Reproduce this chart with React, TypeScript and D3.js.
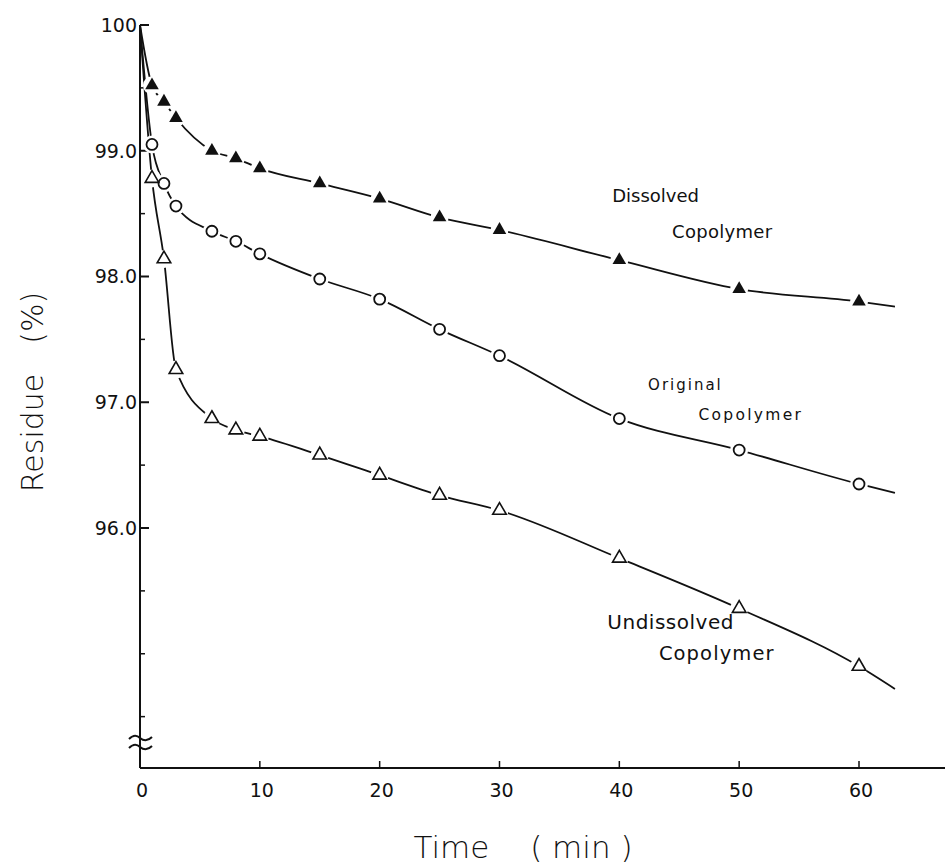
import React, { useRef, useEffect } from "react";
import * as d3 from "d3";

// sampling times (min)
const times = [1, 2, 3, 6, 8, 10, 15, 20, 25, 30, 40, 50, 60];

// residue (%)
const dissolved = [99.52, 99.39, 99.26, 99.0, 98.94, 98.86, 98.74, 98.62, 98.47, 98.37, 98.13, 97.9, 97.8];
const original = [99.05, 98.74, 98.56, 98.36, 98.28, 98.18, 97.98, 97.82, 97.58, 97.37, 96.87, 96.62, 96.35];
const undissolved = [98.78, 98.14, 97.26, 96.87, 96.78, 96.73, 96.58, 96.42, 96.26, 96.14, 95.76, 95.36, 94.9];

// the drawn curves start at 100 % and run a little past the last point
const startValue = 100;
const curveEndTime = 63;
const curveEnds = [97.76, 96.28, 94.72];

const xTicks = [0, 10, 20, 30, 40, 50, 60];
const yTicks = [96, 97, 98, 99, 100];
const yTickLabels = ["96.0", "97.0", "98.0", "99.0", "100"];
const yMinorTicks = [99.5, 98.5, 97.5, 96.5, 95.5, 95.0, 94.5];

const labelLines = [
  ["Dissolved", "Copolymer"],
  ["Original", "Copolymer"],
  ["Undissolved", "Copolymer"],
];

const W = 950;
const H = 864;
const FONT = "'DejaVu Sans', sans-serif";
const INK = "#111";

const App = () => {
  const svgRef = useRef<SVGSVGElement | null>(null);

  useEffect(() => {
    const svg = d3.select(svgRef.current);
    svg.selectAll("*").remove();

    const x = d3.scaleLinear().domain([0, 60]).range([140, 859]);
    const y = d3.scaleLinear().domain([96, 100]).range([528, 25]);
    const axisX = x(0);
    const axisY = 768;
    const axisTop = 25;

    svg.append("rect").attr("width", W).attr("height", H).attr("fill", "#fff");

    // axes
    svg.append("line")
      .attr("x1", axisX).attr("x2", axisX)
      .attr("y1", axisTop).attr("y2", axisY)
      .attr("stroke", INK).attr("stroke-width", 2);
    svg.append("line")
      .attr("x1", axisX).attr("x2", 945)
      .attr("y1", axisY).attr("y2", axisY)
      .attr("stroke", INK).attr("stroke-width", 2);

    // y ticks (inward)
    svg.selectAll(".ytick")
      .data(yTicks)
      .enter()
      .append("line")
      .attr("x1", axisX).attr("x2", axisX + 9)
      .attr("y1", d => y(d)).attr("y2", d => y(d))
      .attr("stroke", INK).attr("stroke-width", 2);
    svg.selectAll(".yminor")
      .data(yMinorTicks)
      .enter()
      .append("line")
      .attr("x1", axisX).attr("x2", axisX + 5)
      .attr("y1", d => y(d)).attr("y2", d => y(d))
      .attr("stroke", INK).attr("stroke-width", 1.5);
    svg.selectAll(".ylabel")
      .data(yTicks)
      .enter()
      .append("text")
      .attr("x", axisX - 3)
      .attr("y", d => y(d))
      .attr("dy", "0.36em")
      .attr("text-anchor", "end")
      .style("font-family", FONT)
      .style("font-size", "19px")
      .attr("fill", INK)
      .text((d, i) => yTickLabels[i]);

    // x ticks (inward)
    svg.selectAll(".xtick")
      .data(xTicks.slice(1))
      .enter()
      .append("line")
      .attr("x1", d => x(d)).attr("x2", d => x(d))
      .attr("y1", axisY).attr("y2", axisY - 7)
      .attr("stroke", INK).attr("stroke-width", 1.5);
    svg.selectAll(".xlabel")
      .data(xTicks)
      .enter()
      .append("text")
      .attr("x", d => x(d) + 2)
      .attr("y", axisY + 29)
      .attr("text-anchor", "middle")
      .style("font-family", FONT)
      .style("font-size", "19px")
      .attr("fill", INK)
      .text(d => String(d));

    // axis break
    [737, 746].forEach(by => {
      svg.append("path")
        .attr("d", `M${axisX - 11},${by + 2} q6,-6 11,-1 q6,5 12,-1`)
        .attr("fill", "none")
        .attr("stroke", INK)
        .attr("stroke-width", 2);
    });

    // axis titles
    svg.append("text")
      .attr("transform", `translate(43,392) rotate(-90)`)
      .attr("text-anchor", "middle")
      .style("font-family", FONT)
      .style("font-size", "30px")
      .style("font-weight", 200)
      .attr("fill", INK)
      .text("Residue\u2003(%)");
    svg.append("text")
      .attr("x", 523)
      .attr("y", 858)
      .attr("text-anchor", "middle")
      .style("font-family", FONT)
      .style("font-size", "31px")
      .style("font-weight", 200)
      .attr("fill", INK)
      .text("Time\u2003 ( min )");

    const series = [dissolved, original, undissolved];
    const line = d3.line<[number, number]>()
      .x(d => x(d[0]))
      .y(d => y(d[1]))
      .curve(d3.curveMonotoneX);

    series.forEach((vals, si) => {
      const pts: [number, number][] = [[0, startValue]];
      times.forEach((t, i) => pts.push([t, vals[i]]));
      pts.push([curveEndTime, curveEnds[si]]);
      svg.append("path")
        .attr("d", line(pts))
        .attr("fill", "none")
        .attr("stroke", INK)
        .attr("stroke-width", 1.8);
    });

    // white gaps round the markers
    series.forEach(vals => {
      svg.append("g")
        .selectAll("circle")
        .data(times.map((t, i) => [t, vals[i]]))
        .enter()
        .append("circle")
        .attr("cx", d => x(d[0]))
        .attr("cy", d => y(d[1]))
        .attr("r", 9)
        .attr("fill", "#fff");
    });

    const tri = d3.symbol().type(d3.symbolTriangle).size(80);

    svg.append("g")
      .selectAll("path")
      .data(times.map((t, i) => [t, dissolved[i]]))
      .enter()
      .append("path")
      .attr("d", tri())
      .attr("transform", d => `translate(${x(d[0])},${y(d[1])})`)
      .attr("fill", INK);

    svg.append("g")
      .selectAll("circle")
      .data(times.map((t, i) => [t, original[i]]))
      .enter()
      .append("circle")
      .attr("cx", d => x(d[0]))
      .attr("cy", d => y(d[1]))
      .attr("r", 5.5)
      .attr("fill", "#fff")
      .attr("stroke", INK)
      .attr("stroke-width", 1.8);

    svg.append("g")
      .selectAll("path")
      .data(times.map((t, i) => [t, undissolved[i]]))
      .enter()
      .append("path")
      .attr("d", tri())
      .attr("transform", d => `translate(${x(d[0])},${y(d[1])})`)
      .attr("fill", "#fff")
      .attr("stroke", INK)
      .attr("stroke-width", 1.6);

    // curve labels, placed in data units
    const labelPos = [
      [[39.4, 98.59, 18, 0], [44.4, 98.31, 18, 0.3]],
      [[42.4, 97.1, 15, 2], [46.6, 96.86, 15.5, 2.3]],
      [[39.0, 95.2, 20, 0.5], [43.3, 94.95, 19.5, 1.1]],
    ];
    labelLines.forEach((lines, li) => {
      lines.forEach((txt, k) => {
        const [t, v, size, ls] = labelPos[li][k];
        svg.append("text")
          .attr("x", x(t))
          .attr("y", y(v))
          .style("font-family", FONT)
          .style("font-size", `${size}px`)
          .style("letter-spacing", `${ls}px`)
          .attr("fill", INK)
          .text(txt);
      });
    });
  }, []);

  return (
    <svg
      ref={svgRef}
      width={W}
      height={H}
      style={{ position: "absolute", left: 0, top: 0, display: "block" }}
    ></svg>
  );
};

export default App;
